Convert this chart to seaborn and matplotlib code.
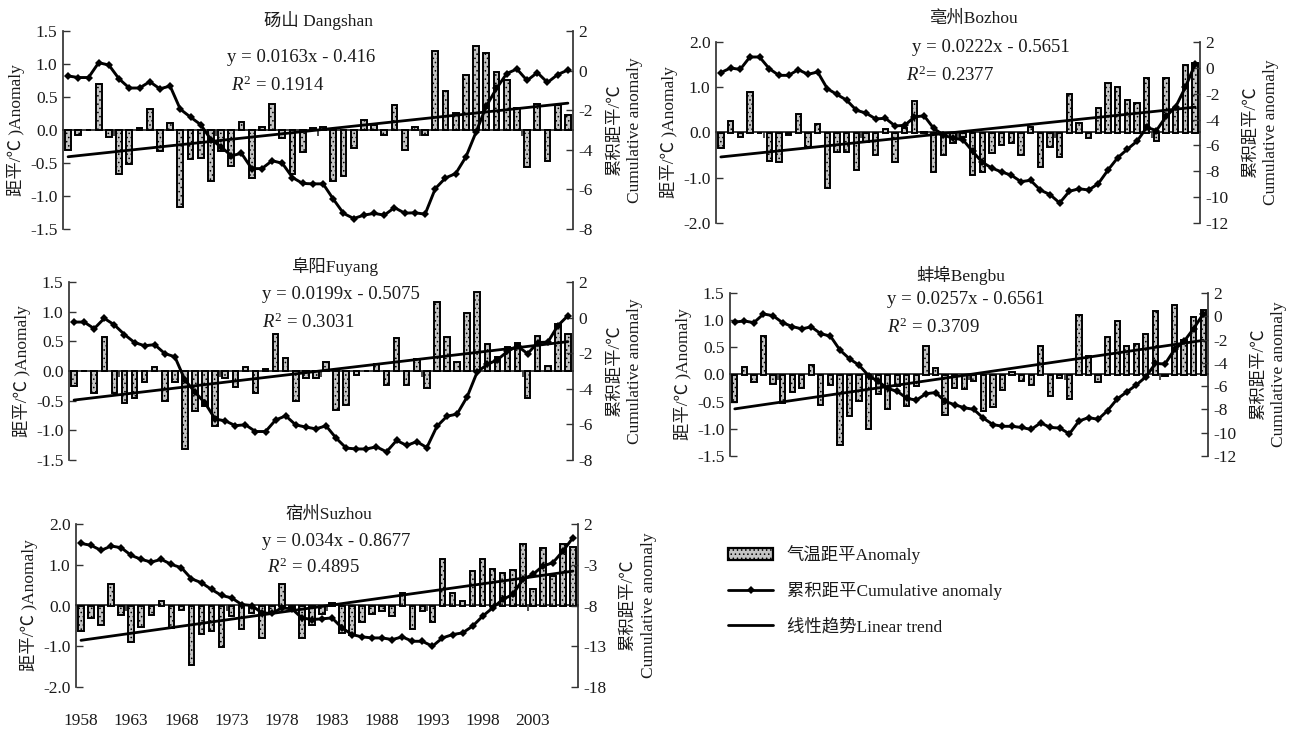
import numpy as np
import matplotlib.pyplot as plt
import seaborn as sns
from matplotlib.lines import Line2D
from matplotlib.patches import Patch

OUTPUT_FILE = "out.png"
W, H = 1298, 732

years = list(range(1958, 2008))
year_labels = [str(y) for y in range(1958, 2008, 5)]

# annual temperature anomaly (bars) and cumulative anomaly (line)
dangshan_anom = [-0.31, -0.08, 0.00, 0.70, -0.10, -0.67, -0.51, 0.03, 0.32, -0.32,
                 0.10, -1.17, -0.44, -0.42, -0.78, -0.32, -0.55, 0.12, -0.72, 0.04,
                 0.40, -0.12, -0.66, -0.33, 0.03, 0.05, -0.78, -0.69, -0.28, 0.15,
                 0.08, -0.07, 0.38, -0.30, 0.05, -0.07, 1.19, 0.59, 0.26, 0.84,
                 1.28, 1.17, 0.88, 0.76, 0.33, -0.56, 0.40, -0.47, 0.38, 0.22]
dangshan_cum = [-0.27, -0.35, -0.35, 0.40, 0.28, -0.42, -0.88, -0.88, -0.56, -0.92,
                -0.78, -1.95, -2.35, -2.73, -3.48, -3.85, -4.30, -4.18, -4.95, -4.95,
                -4.55, -4.68, -5.40, -5.70, -5.72, -5.72, -6.49, -7.21, -7.47, -7.30,
                -7.21, -7.30, -6.92, -7.20, -7.18, -7.25, -5.96, -5.42, -5.20, -4.36,
                -3.10, -1.80, -0.90, -0.15, 0.08, -0.50, -0.10, -0.60, -0.20, 0.03]

bozhou_anom = [-0.35, 0.26, -0.10, 0.90, 0.00, -0.63, -0.66, -0.06, 0.40, -0.33,
               0.18, -1.22, -0.43, -0.43, -0.83, -0.21, -0.50, 0.07, -0.65, 0.10,
               0.69, 0.02, -0.87, -0.50, -0.24, -0.10, -0.94, -0.87, -0.46, -0.28,
               -0.24, -0.50, 0.12, -0.76, -0.32, -0.54, 0.86, 0.22, -0.12, 0.54,
               1.10, 1.00, 0.71, 0.66, 1.20, -0.19, 1.20, 0.55, 1.50, 1.54]
bozhou_cum = [-0.37, -0.01, -0.12, 0.84, 0.84, -0.06, -0.58, -0.58, -0.14, -0.50,
              -0.32, -1.61, -2.06, -2.50, -3.28, -3.50, -3.95, -3.90, -4.49, -4.45,
              -3.79, -3.71, -4.69, -5.20, -5.45, -5.55, -6.45, -7.30, -7.75, -8.05,
              -8.30, -8.80, -8.70, -9.45, -9.80, -10.45, -9.55, -9.35, -9.45, -8.95,
              -7.90, -6.95, -6.29, -5.67, -4.60, -4.85, -3.75, -3.00, -1.48, 0.30]

fuyang_anom = [-0.25, 0.00, -0.37, 0.58, -0.37, -0.54, -0.45, -0.18, 0.06, -0.50,
               -0.18, -1.32, -0.67, -0.59, -0.92, -0.12, -0.27, 0.07, -0.37, 0.03,
               0.62, 0.22, -0.51, -0.12, -0.12, 0.16, -0.66, -0.57, -0.07, 0.00,
               0.12, -0.23, 0.56, -0.23, 0.20, -0.29, 1.16, 0.58, 0.15, 0.97,
               1.33, 0.45, 0.24, 0.41, 0.48, -0.46, 0.59, 0.08, 0.79, 0.63]
fuyang_cum = [-0.25, -0.25, -0.62, -0.04, -0.41, -0.95, -1.40, -1.58, -1.52, -2.02,
              -2.20, -3.50, -4.19, -4.80, -5.70, -5.80, -6.07, -6.02, -6.40, -6.40,
              -5.75, -5.52, -6.03, -6.15, -6.25, -6.08, -6.77, -7.33, -7.38, -7.38,
              -7.26, -7.54, -6.90, -7.18, -6.97, -7.30, -6.11, -5.54, -5.42, -4.45,
              -3.05, -2.63, -2.37, -1.90, -1.60, -2.03, -1.40, -1.38, -0.45, 0.11]

bengbu_anom = [-0.50, 0.14, -0.14, 0.70, -0.18, -0.52, -0.32, -0.25, 0.17, -0.57,
               -0.20, -1.29, -0.77, -0.49, -1.01, -0.35, -0.63, -0.21, -0.58, -0.21,
               0.52, 0.12, -0.74, -0.25, -0.26, -0.12, -0.67, -0.60, -0.29, 0.04,
               -0.12, -0.20, 0.52, -0.40, -0.07, -0.46, 1.09, 0.34, -0.14, 0.69,
               0.98, 0.52, 0.57, 0.75, 1.17, -0.03, 1.27, 0.64, 1.06, 1.18]
bengbu_cum = [-0.50, -0.40, -0.55, 0.20, 0.05, -0.55, -0.88, -1.08, -0.91, -1.50,
              -1.70, -2.90, -3.65, -4.20, -5.10, -5.60, -6.20, -6.45, -7.05, -7.20,
              -6.65, -6.55, -7.30, -7.60, -7.85, -8.00, -8.75, -9.30, -9.45, -9.45,
              -9.55, -9.72, -9.15, -9.55, -9.60, -10.10, -9.00, -8.70, -8.85, -8.10,
              -7.10, -6.50, -5.90, -5.20, -4.05, -4.10, -2.85, -2.15, -1.05, 0.20]

suzhou_anom = [-0.63, -0.30, -0.47, 0.52, -0.24, -0.90, -0.52, -0.24, 0.12, -0.55,
               -0.12, -1.47, -0.69, -0.63, -1.02, -0.26, -0.57, -0.18, -0.80, -0.16,
               0.52, -0.14, -0.80, -0.47, -0.20, 0.07, -0.67, -0.73, -0.41, -0.20,
               -0.14, -0.25, 0.30, -0.57, -0.14, -0.41, 1.13, 0.30, 0.12, 0.84,
               1.13, 0.90, 0.79, 0.87, 1.52, 0.41, 1.40, 0.72, 1.52, 1.44]
suzhou_cum = [-0.38, -0.62, -1.24, -0.70, -0.91, -1.85, -2.34, -2.67, -2.34, -2.96,
              -3.37, -4.72, -5.21, -6.03, -6.77, -7.06, -7.88, -8.00, -8.90, -8.98,
              -8.29, -8.41, -9.52, -9.72, -9.64, -9.52, -10.75, -11.57, -11.85, -11.98,
              -11.98, -12.18, -11.85, -12.39, -12.39, -13.00, -11.98, -11.57, -11.36, -10.54,
              -9.31, -8.29, -7.26, -6.65, -4.80, -4.19, -3.16, -2.75, -1.32, 0.32]

station_names = ["砀山 Dangshan", "亳州Bozhou", "阜阳Fuyang", "蚌埠Bengbu", "宿州Suzhou"]
equations = ["y = 0.0163x - 0.416", "y = 0.0222x - 0.5651", "y = 0.0199x - 0.5075",
             "y = 0.0257x - 0.6561", "y = 0.034x - 0.8677"]
r2_values = ["0.1914", "0.2377", "0.3031", "0.3709", "0.4895"]

anomalies = [dangshan_anom, bozhou_anom, fuyang_anom, bengbu_anom, suzhou_anom]
cumulatives = [dangshan_cum, bozhou_cum, fuyang_cum, bengbu_cum, suzhou_cum]

# layout (pixels): plot box, left/right axis ranges, text anchors
panels = [
    dict(box=(63, 31, 573, 229), left=(-1.5, 1.5, 0.5), right=(-8, 2, 2),
         title=(318, 21), eq=(227, 58), r2=(231, 85), r2sep=" = "),
    dict(box=(716, 42, 1200, 223), left=(-2.0, 2.0, 1.0), right=(-12, 2, 2),
         title=(974, 19), eq=(912, 48), r2=(906, 75), r2sep="= "),
    dict(box=(69, 282, 573, 460), left=(-1.5, 1.5, 0.5), right=(-8, 2, 2),
         title=(335, 267), eq=(262, 295), r2=(262, 322), r2sep=" = "),
    dict(box=(730, 293, 1208, 456), left=(-1.5, 1.5, 0.5), right=(-12, 2, 2),
         title=(961, 275), eq=(887, 300), r2=(887, 327), r2sep=" = "),
    dict(box=(76, 524, 578, 687), left=(-2.0, 2.0, 1.0), right=(-18, 2, 5),
         title=(329, 515), eq=(262, 541), r2=(267, 567), r2sep=" = "),
]

FONT = ["Liberation Serif", "Noto Sans CJK SC"]
TXT = "#1a1a1a"
BAR_FACE = "#c4c4c4"


def px_rect(x0, y0, x1, y1):
    return [x0 / W, 1 - y1 / H, (x1 - x0) / W, (y1 - y0) / H]


def main():
    sns.set_theme(style="white")
    plt.rcParams["font.family"] = FONT
    plt.rcParams["mathtext.fontset"] = "custom"
    plt.rcParams["mathtext.rm"] = "Liberation Serif"
    plt.rcParams["mathtext.it"] = "Liberation Serif:italic"
    plt.rcParams["axes.unicode_minus"] = False
    plt.rcParams["hatch.linewidth"] = 0.6

    fig = plt.figure(figsize=(W / 100, H / 100), dpi=100)
    fs = 12.5

    for k, cfg in enumerate(panels):
        anom = anomalies[k]
        cum = cumulatives[k]
        pos = np.arange(len(years))

        ax = fig.add_axes(px_rect(*cfg["box"]))
        ax2 = ax.twinx()

        sns.barplot(x=pos, y=anom, ax=ax, width=0.55, color=BAR_FACE,
                    edgecolor="black", linewidth=1.4, hatch="....", zorder=2)
        sns.regplot(x=pos, y=anom, ax=ax, scatter=False, ci=None, truncate=True,
                    color="black", line_kws=dict(lw=2.0, zorder=3))
        sns.lineplot(x=pos, y=cum, ax=ax2, color="black", lw=2.1, marker="D",
                     markersize=4.5, markeredgewidth=0, sort=False)

        lo, hi, st = cfg["left"]
        ax.set_xlim(-0.5, len(years) - 0.5)
        ax.set_ylim(lo, hi)
        ticks = np.arange(lo, hi + st / 2, st)
        ax.set_yticks(ticks)
        ax.set_yticklabels([f"{v:.1f}" for v in ticks])
        rlo, rhi, rst = cfg["right"]
        ax2.set_ylim(rlo, rhi)
        ax2.set_yticks(np.arange(rlo, rhi + 1, rst))

        for a in (ax, ax2):
            for s in ("top", "bottom"):
                a.spines[s].set_visible(False)
        ax.spines["right"].set_visible(False)
        ax2.spines["left"].set_visible(False)
        ax.spines["left"].set_color("#333333")
        ax2.spines["right"].set_color("#333333")

        ax.tick_params(axis="y", direction="in", length=5, width=1, color="#333333",
                       labelsize=fs, labelcolor=TXT, pad=4)
        ax2.tick_params(axis="y", direction="in", length=5, width=1, color="#333333",
                        labelsize=fs, labelcolor=TXT, pad=4)

        # category axis crossing at zero
        zero_axis = ax.secondary_xaxis(0.5)
        zero_axis.spines["bottom"].set_color("#333333")
        zero_axis.set_xticks(np.arange(4.5, len(years), 10))
        zero_axis.set_xticklabels([])
        zero_axis.tick_params(direction="in", length=4, color="#333333")

        if k == 4:
            ax.set_xticks(np.arange(0, len(years), 5))
            ax.set_xticklabels(year_labels)
            ax.tick_params(axis="x", length=0, labelsize=fs, labelcolor=TXT, pad=19)
        else:
            ax.set_xticks([])

        ax.set_xlabel("")
        ax.set_ylabel("距平/℃ )Anomaly", fontsize=fs, color=TXT, labelpad=4)
        ax2.set_ylabel("累积距平/℃\nCumulative anomaly", fontsize=fs, color=TXT,
                       labelpad=10, linespacing=1.35)

        tx, ty = cfg["title"]
        fig.text(tx / W, 1 - ty / H, station_names[k], ha="center", va="center",
                 fontsize=fs, color=TXT)
        ex, ey = cfg["eq"]
        fig.text(ex / W, 1 - ey / H, equations[k], ha="left", va="center",
                 fontsize=13.5, color=TXT)
        rx, ry = cfg["r2"]
        fig.text(rx / W, 1 - ry / H, "$R^2$" + cfg["r2sep"] + r2_values[k],
                 ha="left", va="center", fontsize=13.5, color=TXT)

    bar_handle = Patch(facecolor=BAR_FACE, edgecolor="black", linewidth=1.6, hatch="....")
    cum_handle = Line2D([], [], color="black", lw=2.0, marker="D", markersize=4.5,
                        markeredgewidth=0)
    trend_handle = Line2D([], [], color="black", lw=2.0)

    fig.legend([bar_handle, cum_handle, trend_handle],
               ["气温距平Anomaly", "累积距平Cumulative anomaly", "线性趋势Linear trend"],
               loc="upper left", bbox_to_anchor=(728 / W, 1 - 545 / H), frameon=False,
               fontsize=fs, handlelength=2.6, handleheight=0.7, handletextpad=0.8,
               labelspacing=1.05, borderpad=0, borderaxespad=0, labelcolor=TXT)

    fig.savefig(OUTPUT_FILE, dpi=100)


if __name__ == "__main__":
    main()
